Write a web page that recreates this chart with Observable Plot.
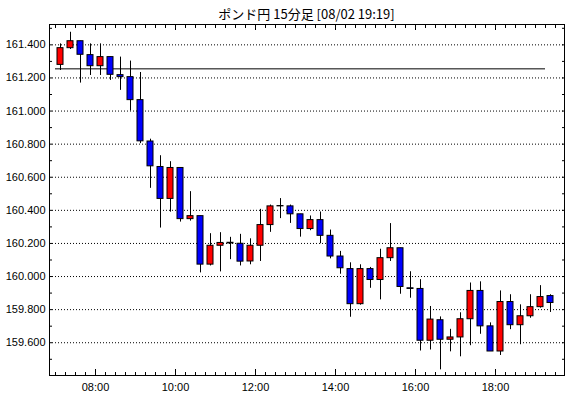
<!DOCTYPE html>
<html>
<head>
<meta charset="utf-8">
<script src="https://cdn.jsdelivr.net/npm/d3@7"></script>
<script src="https://cdn.jsdelivr.net/npm/@observablehq/plot@0.6"></script>
<style>
  html, body { margin: 0; padding: 0; background: #fff; }
  #title { height: 20px; line-height: 27px; margin-left: 49px; width: 515px; text-align: center;
           font-family: "Noto Sans CJK JP", sans-serif; font-size: 13px; color: #000; overflow: visible; white-space: nowrap; }
  #chart svg { display: block; }
</style>
</head>
<body>
<div id="title">ポンド円 15分足 [08/02 19:19]</div>
<div id="chart"></div>
<script>
// ---- data ----
const day = "2022-08-02";
const times = ["07:00","07:15","07:30","07:45","08:00","08:15","08:30","08:45","09:00","09:15",
  "09:30","09:45","10:00","10:15","10:30","10:45","11:00","11:15","11:30","11:45",
  "12:00","12:15","12:30","12:45","13:00","13:15","13:30","13:45","14:00","14:15",
  "14:30","14:45","15:00","15:15","15:30","15:45","16:00","16:15","16:30","16:45",
  "17:00","17:15","17:30","17:45","18:00","18:15","18:30","18:45","19:00","19:15"];
const open = [161.279,161.380,161.422,161.338,161.271,161.326,161.217,161.205,161.066,160.816,
  160.662,160.469,160.656,160.347,160.365,160.072,160.186,160.200,160.198,160.091,
  160.186,160.311,160.424,160.424,160.376,160.287,160.341,160.246,160.121,160.045,
  159.833,160.045,159.979,160.111,160.171,159.929,159.925,159.612,159.736,159.618,
  159.632,159.742,159.913,159.699,159.547,159.846,159.706,159.760,159.815,159.882];
const high = [161.406,161.476,161.422,161.406,161.406,161.326,161.326,161.302,161.233,160.830,
  160.730,160.694,160.656,160.513,160.365,160.259,160.265,160.237,160.255,160.228,
  160.406,160.432,160.471,160.432,160.376,160.366,160.390,160.281,160.152,160.083,
  160.071,160.055,160.165,160.320,160.171,160.029,159.981,159.819,159.756,159.681,
  159.781,159.961,159.968,159.720,159.913,159.890,159.829,159.890,159.945,159.890];
const low = [161.245,161.372,161.169,161.215,161.215,161.185,161.125,161.000,160.803,160.533,
  160.293,160.389,160.329,160.335,160.022,160.064,160.028,160.102,160.064,160.071,
  160.091,160.267,160.350,160.321,160.238,160.277,160.198,160.107,160.014,159.754,
  159.827,159.929,159.859,160.091,159.893,159.869,159.550,159.556,159.436,159.545,
  159.515,159.582,159.651,159.547,159.523,159.679,159.588,159.748,159.809,159.783];
const close = [161.380,161.422,161.340,161.271,161.326,161.219,161.205,161.066,160.817,160.666,
  160.469,160.656,160.347,160.365,160.072,160.186,160.203,160.204,160.090,160.186,
  160.311,160.424,160.426,160.376,160.287,160.341,160.246,160.121,160.050,159.833,
  160.045,159.979,160.111,160.171,159.937,159.925,159.612,159.740,159.618,159.632,
  159.742,159.913,159.699,159.547,159.846,159.706,159.760,159.815,159.876,159.840];
const refLevel = 161.255;
const yLabels = [159.6,159.8,160.0,160.2,160.4,160.6,160.8,161.0,161.2,161.4];
const xLabels = ["08:00","10:00","12:00","14:00","16:00","18:00"];

// ---- build table ----
const T = s => new Date(`${day}T${s}:00Z`);
const MIN = 60000;
const candles = times.map((t, i) => {
  const t0 = T(t).getTime();
  return {
    mid: new Date(t0 + 7.5 * MIN),
    b1: new Date(t0 + 3 * MIN),
    b2: new Date(t0 + 12 * MIN),
    open: open[i], high: high[i], low: low[i], close: close[i],
    up: close[i] >= open[i]
  };
});
const refRow = [{y: refLevel, x1: T(times[0]), x2: T(times[times.length - 1])}];
const xMajor = xLabels.map(T);
const xMinor = d3.utcMinute.every(15).range(T("06:52"), T("19:44"));
const yMinor = d3.range(15950, 161500 / 10 + 1, 10).map(v => v / 100);

const fmtT = d3.utcFormat("%H:%M");
const blank = () => "";

const chart = Plot.plot({
  width: 570,
  height: 378,
  marginTop: 4,
  marginBottom: 23,
  marginLeft: 49,
  marginRight: 6,
  style: {fontFamily: "'Liberation Sans', Arial, sans-serif", fontSize: "11px", background: "#fff", color: "#000"},
  x: {type: "utc", domain: [T("06:51"), new Date(T("19:43").getTime() + 30000)]},
  y: {domain: [159.402, 161.523]},
  marks: [
    Plot.gridY(yLabels, {stroke: "#000", strokeOpacity: 1, strokeDasharray: "1,2"}),
    Plot.axisY(yLabels, {anchor: "left", tickSize: 0, tickPadding: 4, tickFormat: d3.format(".3f"), label: null, fontSize: 11}),
    Plot.axisY(yMinor, {anchor: "left", tickSize: 3, dx: 3, tickFormat: blank, label: null}),
    Plot.axisY(yMinor, {anchor: "right", tickSize: 3, dx: -3, tickFormat: blank, label: null}),
    Plot.axisX(xMinor, {anchor: "bottom", tickSize: 3, dy: -3, tickFormat: blank, label: null}),
    Plot.axisX(xMajor, {anchor: "bottom", tickSize: 6, dy: -6, tickFormat: blank, label: null}),
    Plot.axisX(xMajor, {anchor: "bottom", tickSize: 0, tickPadding: 8, tickFormat: fmtT, label: null, fontSize: 11}),
    Plot.axisX(xMinor, {anchor: "top", tickSize: 3, dy: 3, tickFormat: blank, label: null}),
    Plot.axisX(xMajor, {anchor: "top", tickSize: 5, dy: 5, tickFormat: blank, label: null}),
    Plot.ruleY(refRow, {y: "y", x1: "x1", x2: "x2", stroke: "#000", strokeWidth: 1}),
    Plot.ruleX(candles, {x: "mid", y1: "low", y2: "high", stroke: "#000", strokeWidth: 1}),
    Plot.rect(candles, {x1: "b1", x2: "b2", y1: "open", y2: "close",
      fill: d => d.up ? "#ff0000" : "#0000ff", stroke: "#000", strokeWidth: 1}),
    Plot.frame({stroke: "#000"})
  ]
});
document.getElementById("chart").append(chart);
</script>
</body>
</html>
